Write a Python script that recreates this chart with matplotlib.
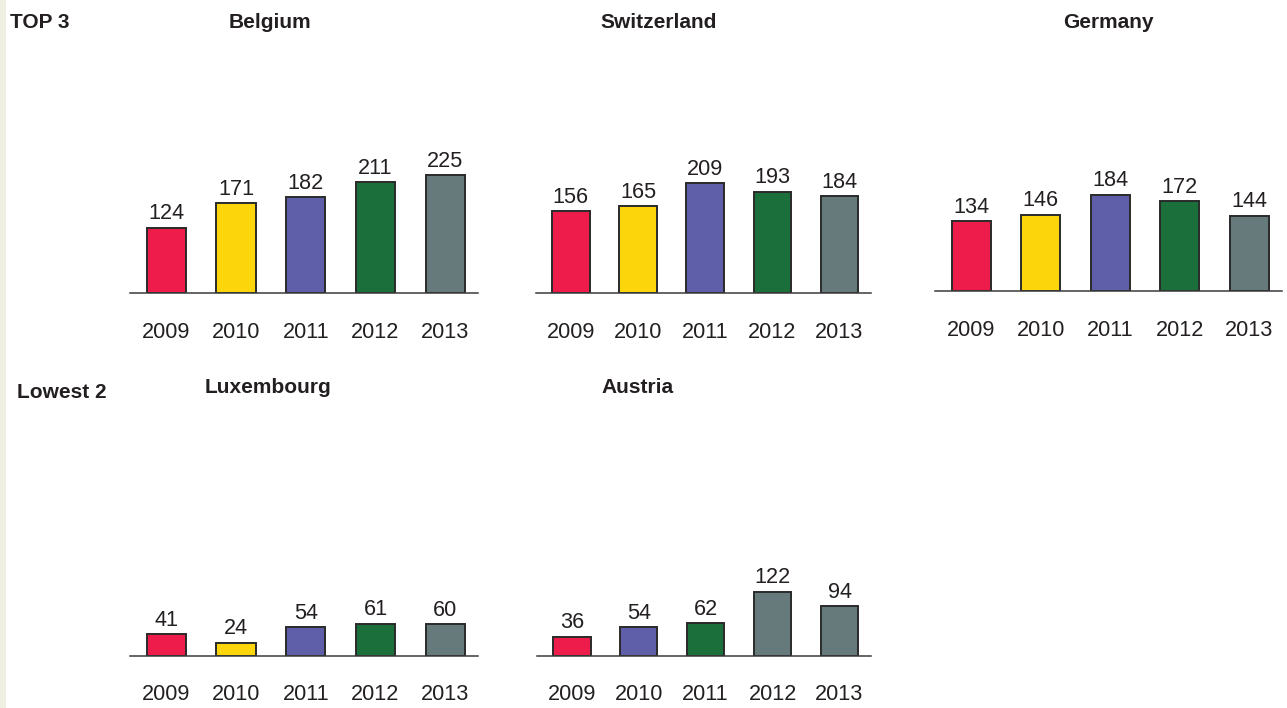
import matplotlib
matplotlib.use("Agg")
import matplotlib.pyplot as plt
from matplotlib.patches import Rectangle

plt.rcParams["font.family"] = ["Liberation Sans", "DejaVu Sans"]

# ---- data ----
years = ["2009", "2010", "2011", "2012", "2013"]

belgium = [124, 171, 182, 211, 225]
switzerland = [156, 165, 209, 193, 184]
germany = [134, 146, 184, 172, 144]
luxembourg = [41, 24, 54, 61, 60]
austria = [36, 54, 62, 122, 94]

RED = "#ee1c4a"
YELLOW = "#fdd50b"
PURPLE = "#5e5ea9"
GREEN = "#1b6f3a"
GREY = "#677a7b"

colors_default = [RED, YELLOW, PURPLE, GREEN, GREY]
colors_austria = [RED, PURPLE, GREEN, GREY, GREY]

# ---- figure ----
W, H = 1287, 708
DPI = 100
fig = plt.figure(figsize=(W / DPI, H / DPI), dpi=DPI)
fig.patch.set_facecolor("white")

# thin beige band on the left edge
fig.patches.append(Rectangle((0, 0), 5.5 / W, 1, transform=fig.transFigure,
                             facecolor="#efefe3", edgecolor="none", zorder=0))

TXT = "#231f20"
FS = 15.6
FS_TITLE = 15
PX_PER_UNIT = 0.522
AX_H = 150  # axes height in pixels
YMAX = AX_H / PX_PER_UNIT
XLIM = (-0.52, 4.47)


def panel(x0, x1, baseline, values, colors, title, title_x, title_y):
    ax = fig.add_axes([x0 / W, 1 - baseline / H, (x1 - x0) / W, AX_H / H])
    ax.set_facecolor("none")
    pos = list(range(len(values)))
    bars = ax.bar(pos, values, width=0.56, color=colors,
                  edgecolor="#2a2a2a", linewidth=1.4, zorder=3)
    ax.set_xlim(*XLIM)
    ax.set_ylim(0, YMAX)
    for s in ("top", "left", "right"):
        ax.spines[s].set_visible(False)
    ax.spines["bottom"].set_color("#3a3a3a")
    ax.spines["bottom"].set_linewidth(1.1)
    ax.spines["bottom"].set_zorder(4)
    ax.set_yticks([])
    ax.set_xticks(pos)
    ax.set_xticklabels(years, fontsize=FS, color=TXT)
    ax.tick_params(axis="x", length=0, pad=45 * 72 / DPI)
    for lab in ax.get_xticklabels():
        lab.set_verticalalignment("baseline")
    for b, v in zip(bars, values):
        ax.annotate(f"{v}", xy=(b.get_x() + b.get_width() / 2, v),
                    xytext=(0, 8.5 * 72 / DPI), textcoords="offset points",
                    ha="center", va="baseline", fontsize=FS, color=TXT)
    fig.text(title_x / W, 1 - title_y / H, title, ha="center", va="baseline",
             fontsize=FS_TITLE, fontweight="bold", color=TXT)
    return ax


panel(130, 478, 292.5, belgium, colors_default, "Belgium", 269.5, 28.5)
panel(536, 871, 292.5, switzerland, colors_default, "Switzerland", 658.5, 28.5)
panel(935, 1282, 291, germany, colors_default, "Germany", 1108, 28.5)
panel(130, 478, 655.5, luxembourg, colors_default, "Luxembourg", 268, 393)
panel(537, 871, 655.5, austria, colors_austria, "Austria", 638, 393)

fig.text(10 / W, 1 - 27.5 / H, "TOP 3", ha="left", va="baseline",
         fontsize=FS_TITLE, fontweight="bold", color=TXT)
fig.text(17 / W, 1 - 398.5 / H, "Lowest 2", ha="left", va="baseline",
         fontsize=FS_TITLE, fontweight="bold", color=TXT)

fig.savefig("out.png", dpi=DPI, facecolor="white")
